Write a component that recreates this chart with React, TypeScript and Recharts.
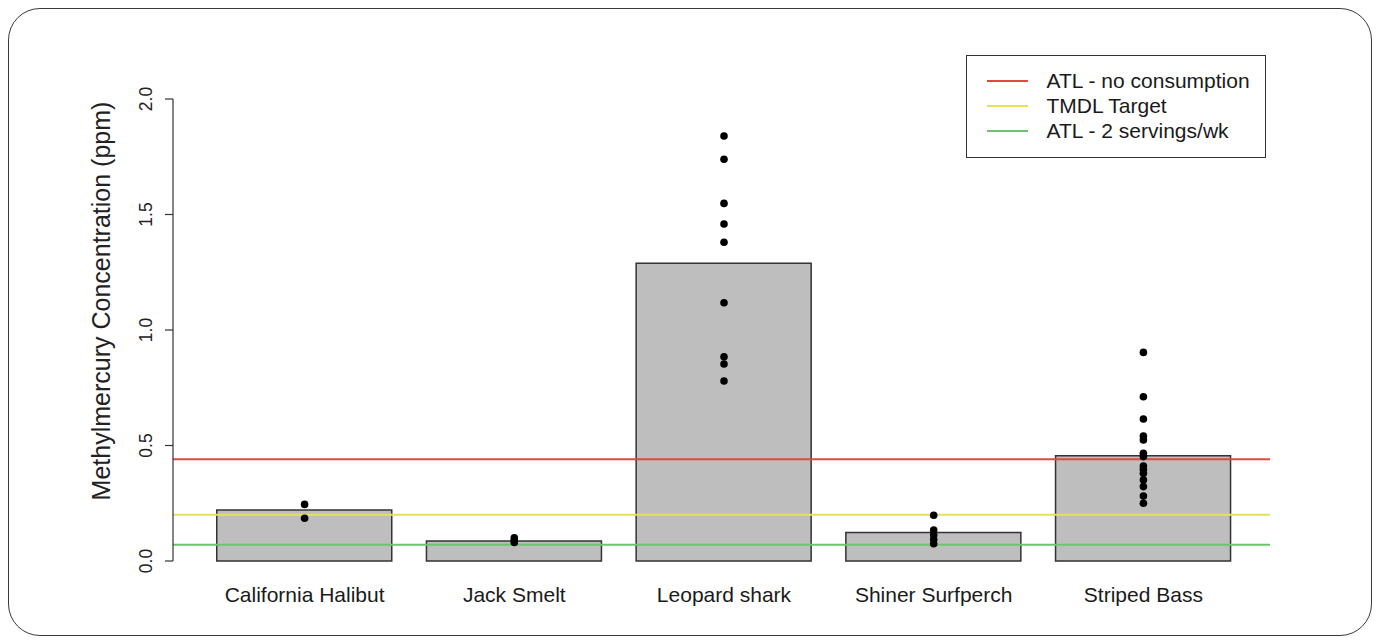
import React from 'react';
import { ComposedChart, Bar, Line, XAxis, YAxis, ReferenceLine, Label } from 'recharts';

const categories = ['California Halibut', 'Jack Smelt', 'Leopard shark', 'Shiner Surfperch', 'Striped Bass'];
const meanValues = [0.221, 0.087, 1.289, 0.123, 0.456];

const halibutPoints = [0.245, 0.185];
const smeltPoints = [0.1, 0.09, 0.08];
const leopardPoints = [1.84, 1.739, 1.548, 1.459, 1.38, 1.118, 0.884, 0.853, 0.779];
const shinerPoints = [0.198, 0.134, 0.113, 0.093, 0.075];
const bassPoints = [0.903, 0.711, 0.615, 0.541, 0.524, 0.466, 0.452, 0.411, 0.397, 0.38, 0.351, 0.322, 0.281, 0.25];
const samplePoints = [halibutPoints, smeltPoints, leopardPoints, shinerPoints, bassPoints];

const thresholdNames = ['ATL - no consumption', 'TMDL Target', 'ATL - 2 servings/wk'];
const thresholdValues = [0.44, 0.2, 0.07];
const thresholdColors = ['#dc4b3c', '#e8e05c', '#6cc46c'];

const yTicks = [0, 0.5, 1.0, 1.5, 2.0];
const yTitle = 'Methylmercury Concentration (ppm)';

const maxPoints = Math.max(...samplePoints.map((p) => p.length));
const pointKeys = Array.from({ length: maxPoints }, (_, i) => `p${i}`);

const data = categories.map((name, i) => {
  const row: Record<string, any> = { name, mean: meanValues[i] };
  pointKeys.forEach((k, j) => {
    row[k] = j < samplePoints[i].length ? samplePoints[i][j] : null;
  });
  return row;
});

const FONT = '"Liberation Sans", Arial, Helvetica, sans-serif';

const YTick = (props: any) => {
  const { x, y, payload } = props;
  const bx = x - 13;
  return (
    <text
      x={bx}
      y={y}
      transform={`rotate(-90, ${bx}, ${y})`}
      textAnchor="middle"
      fontFamily={FONT}
      fontSize={17.5}
      fill="#222"
    >
      {Number(payload.value).toFixed(1)}
    </text>
  );
};

const XTick = (props: any) => {
  const { x, y, payload } = props;
  return (
    <text x={x} y={y + 41} textAnchor="middle" fontFamily={FONT} fontSize={21} fill="#1a1a1a">
      {payload.value}
    </text>
  );
};

const YTitle = (props: any) => {
  const { viewBox } = props;
  const tx = viewBox.x - 3;
  const ty = viewBox.y + viewBox.height / 2 - 29;
  return (
    <text
      x={tx}
      y={ty}
      transform={`rotate(-90, ${tx}, ${ty})`}
      textAnchor="middle"
      fontFamily={FONT}
      fontSize={25}
      fill="#222"
    >
      {yTitle}
    </text>
  );
};

export default function App() {
  return (
    <div style={{ position: 'relative', width: 1364, height: 628 }}>
      <div
        style={{
          position: 'absolute',
          left: 0,
          top: 0,
          width: 1364,
          height: 628,
          border: '1.5px solid #3a3a3a',
          borderRadius: 32,
          boxSizing: 'border-box',
        }}
      />
      <div style={{ position: 'absolute', left: 0, top: 0 }}>
        <ComposedChart
          width={1364}
          height={628}
          data={data}
          margin={{ top: 91, right: 102, left: 105, bottom: 25 }}
        >
          <XAxis
            dataKey="name"
            type="category"
            axisLine={false}
            tickLine={false}
            tickSize={0}
            tickMargin={0}
            height={50}
            padding={{ left: 26.75, right: 21.75 }}
            tick={<XTick />}
            interval={0}
          />
          <YAxis
            type="number"
            domain={[0, 2]}
            ticks={yTicks}
            width={60}
            tickSize={8}
            tickMargin={0}
            axisLine={{ stroke: '#333', strokeWidth: 1.2 }}
            tickLine={{ stroke: '#333', strokeWidth: 1.2 }}
            tick={<YTick />}
            interval={0}
          >
            <Label content={<YTitle />} />
          </YAxis>
          <Bar
            dataKey="mean"
            barSize={175}
            fill="#bebebe"
            stroke="#333"
            strokeWidth={1.5}
            isAnimationActive={false}
          />
          {thresholdValues.map((v, i) => (
            <ReferenceLine
              key={thresholdNames[i]}
              y={v}
              stroke={thresholdColors[i]}
              strokeWidth={2}
              ifOverflow="extendDomain"
            />
          ))}
          {pointKeys.map((k) => (
            <Line
              key={k}
              dataKey={k}
              stroke="none"
              strokeWidth={0}
              dot={{ r: 3.8, fill: '#000', stroke: 'none' }}
              activeDot={false}
              legendType="none"
              isAnimationActive={false}
            />
          ))}
        </ComposedChart>
      </div>
      <div
        style={{
          position: 'absolute',
          left: 958,
          top: 47,
          width: 300,
          height: 103,
          border: '1.5px solid #333',
          boxSizing: 'border-box',
          paddingTop: 12,
          background: '#fff',
          fontFamily: FONT,
          fontSize: 21,
          color: '#1a1a1a',
        }}
      >
        {thresholdNames.map((n, i) => (
          <div key={n} style={{ display: 'flex', alignItems: 'center', height: 25 }}>
            <div
              style={{
                marginLeft: 19.5,
                width: 41,
                height: 2,
                background: thresholdColors[i],
              }}
            />
            <span style={{ marginLeft: 19, lineHeight: '25px', whiteSpace: 'nowrap' }}>{n}</span>
          </div>
        ))}
      </div>
    </div>
  );
}
